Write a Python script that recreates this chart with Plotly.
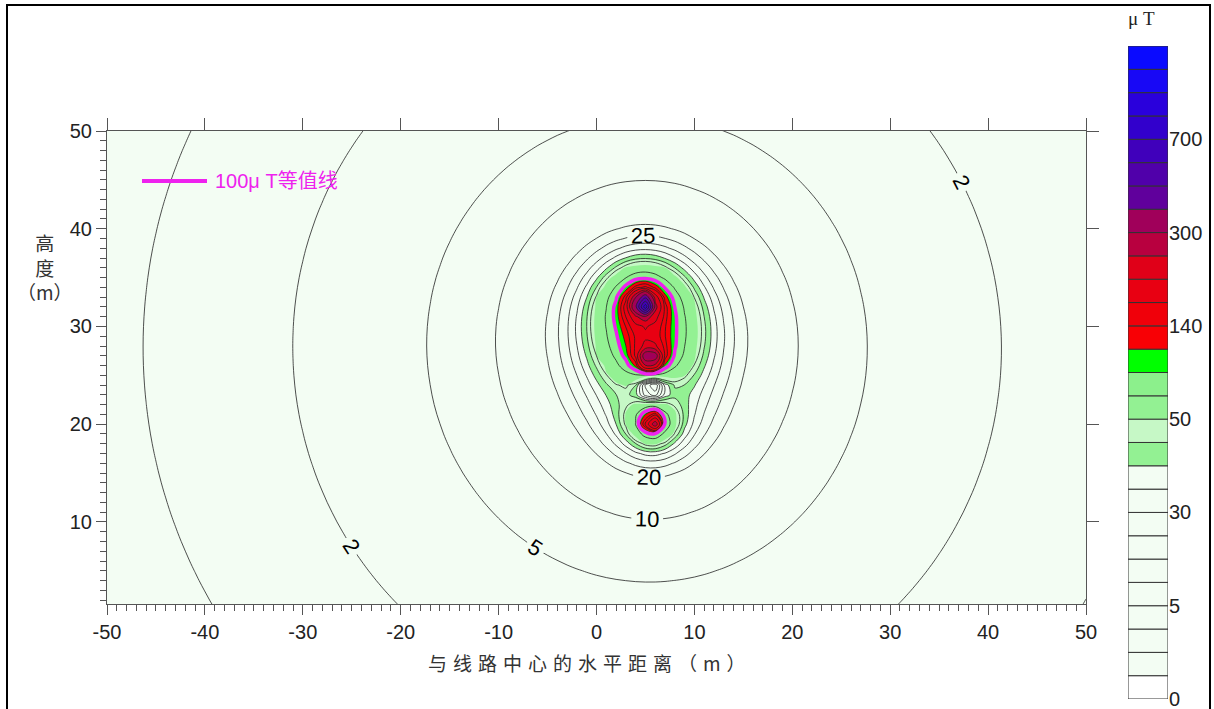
import numpy as np
import plotly.graph_objects as go

# ---------------- data ----------------
# conductor positions (m) and signed currents (A)
cond_x = [4.8, 5.5, 5.7]
cond_y = [32.4, 26.5, 20.3]
cond_current = [1626.0, -1021.0, -605.0]

# contour levels (uT) as shown on the colour bar (28 bands)
levels = [0, 0.5, 1, 2, 5, 10, 20, 25, 30, 35, 40, 45, 50, 75, 100, 120,
          140, 160, 200, 250, 300, 400, 500, 600, 700, 800, 900, 1000, 1100]
band_colors = ["#ffffff"] + ["#f3fdf3"] * 9 + [
    "#93f193", "#c6f8c6", "#93f193", "#8cf08c", "#00ff00",
    "#f80005", "#f0000a", "#e80012", "#e00018", "#b8003f", "#a0005a",
    "#60009c", "#5000aa", "#4000bb", "#3200cc", "#2a00dc", "#1808f5", "#0a0aff"]
labeled_levels = [2, 5, 10, 20, 25]
highlight_level = 100
cbar_tick_index = [0, 4, 8, 12, 16, 20, 24]
cbar_tick_text = ["0", "5", "30", "50", "140", "300", "700"]
x_ticks = [-50, -40, -30, -20, -10, 0, 10, 20, 30, 40, 50]
y_ticks = [10, 20, 30, 40, 50]
x_range = [-50, 50]
y_range = [1.6, 50]

# ---------------- field on a 1 m grid ----------------
grid_x = np.arange(-50, 50.001, 1.0)
grid_y = np.arange(1.0, 51.001, 1.0)
X, Y = np.meshgrid(grid_x, grid_y)
Bx = np.zeros_like(X)
By = np.zeros_like(X)
for cx, cy, ci in zip(cond_x, cond_y, cond_current):
    dx = X - cx
    dy = Y - cy
    r2 = dx * dx + dy * dy
    Bx += -0.2 * ci * dy / r2
    By += 0.2 * ci * dx / r2
B = np.hypot(Bx, By)
n_lev = len(levels)
Zidx = np.interp(B, levels, np.arange(n_lev))

# stepwise colourscale: band k is coloured at index k+0.5
cscale = [[0.0, band_colors[0]]]
for k, c in enumerate(band_colors):
    lo = (k + 0.5) / n_lev
    hi = (k + 1.5) / n_lev
    cscale.append([lo, c])
    cscale.append([hi, c])
cscale.append([1.0, band_colors[-1]])

# ---------------- pixel -> paper helpers ----------------
L, R, T, Bm = 107, 1200, 46, 699
def px(v):
    return (v - L) / (R - L)
def py(v):
    return (Bm - v) / (Bm - T)

fig = go.Figure()
fig.add_trace(go.Contour(
    x=grid_x, y=grid_y, z=Zidx, autocontour=False,
    contours=dict(start=0, end=n_lev - 1, size=1, coloring="fill"),
    colorscale=cscale, line=dict(width=0), showscale=False,
    hoverinfo="skip"))

for lv in levels[1:]:
    lab = lv in labeled_levels
    fig.add_trace(go.Contour(
        x=grid_x, y=grid_y, z=B, autocontour=False,
        contours=dict(start=lv, end=lv, size=1, coloring="none",
                      showlabels=lab,
                      labelfont=dict(size=22, color="black", family="Liberation Sans")),
        line=dict(color="#222222", width=0.8), showscale=False,
        hoverinfo="skip"))

fig.add_trace(go.Contour(
    x=grid_x, y=grid_y, z=B, autocontour=False, xaxis="x2", yaxis="y2",
    contours=dict(start=highlight_level, end=highlight_level, size=1, coloring="none"),
    line=dict(color="#ee22ee", width=3.5), showscale=False, hoverinfo="skip"))

# colour bar drawn as stacked boxes
fig.add_trace(go.Bar(
    x=[0] * len(band_colors), y=[1] * len(band_colors),
    base=list(range(len(band_colors))), width=1,
    marker=dict(color=band_colors, line=dict(color="#333333", width=1)),
    xaxis="x3", yaxis="y3", showlegend=False, hoverinfo="skip"))

tickfont = dict(family="Liberation Sans, Arial", size=20, color="#222222")
axcol = "#555555"
fig.update_layout(
    width=1214, height=709,
    margin=dict(l=L, r=1214 - R, t=T, b=709 - Bm, autoexpand=False),
    paper_bgcolor="white", plot_bgcolor="white", showlegend=False,
    xaxis=dict(domain=[0, px(1086)], range=x_range, anchor="y", automargin=False,
               tickvals=x_ticks, ticktext=[str(v) for v in x_ticks],
               ticks="outside", ticklen=10, tickcolor=axcol,
               showline=True, linecolor=axcol, linewidth=1,
               showgrid=False, zeroline=False, tickfont=tickfont,
               minor=dict(dtick=1, ticks="outside", ticklen=6, tickcolor=axcol)),
    yaxis=dict(domain=[py(604), py(131)], range=y_range, anchor="x", automargin=False,
               tickvals=y_ticks, ticktext=[str(v) for v in y_ticks],
               ticks="outside", ticklen=10, tickcolor=axcol,
               showline=True, linecolor=axcol, linewidth=1,
               showgrid=False, zeroline=False, tickfont=tickfont,
               minor=dict(dtick=1, ticks="outside", ticklen=6, tickcolor=axcol)),
    xaxis2=dict(overlaying="x", side="top", range=x_range, anchor="y2", automargin=False,
                tickvals=x_ticks, ticks="outside", ticklen=12, tickcolor=axcol,
                showticklabels=False, showline=True, linecolor=axcol,
                showgrid=False, zeroline=False),
    yaxis2=dict(overlaying="y", side="right", range=y_range, anchor="x2", automargin=False,
                tickvals=y_ticks, ticks="outside", ticklen=12, tickcolor=axcol,
                showticklabels=False, showline=True, linecolor=axcol,
                showgrid=False, zeroline=False),
    xaxis3=dict(domain=[px(1128), px(1168)], range=[-0.5, 0.5], anchor="y3",
                visible=False, automargin=False),
    yaxis3=dict(domain=[0, 1], range=[0, len(band_colors)], anchor="x3",
                side="right", tickvals=cbar_tick_index, ticktext=cbar_tick_text,
                ticks="", showgrid=False, zeroline=False, showline=False,
                tickfont=tickfont, automargin=False, ticklabeloverflow="allow"),
    shapes=[
        dict(type="line", xref="paper", yref="paper", x0=px(142), x1=px(207),
             y0=py(181), y1=py(181), line=dict(color="#ee22ee", width=4)),
        dict(type="rect", xref="paper", yref="paper", x0=px(7), x1=px(1210),
             y0=py(730), y1=py(5), line=dict(color="black", width=2)),
    ],
    annotations=[
        dict(text="100μ T等值线", xref="paper", yref="paper", x=px(213), y=py(181),
             xanchor="left", yanchor="middle", showarrow=False,
             font=dict(family="Liberation Sans, Noto Sans CJK SC", size=20, color="#ee22ee")),
        dict(text="高<br>度<br>（m）", xref="paper", yref="paper", x=px(45), y=py(267),
             xanchor="center", yanchor="middle", showarrow=False,
             font=dict(family="Noto Sans CJK SC", size=19, color="#333333")),
        dict(text='<span style="letter-spacing:6px">与线路中心的水平距离（m）</span>',
             xref="paper", yref="paper", x=px(590), y=py(662),
             xanchor="center", yanchor="middle", showarrow=False,
             font=dict(family="Noto Sans CJK SC", size=19, color="#333333")),
        dict(text="μ T", xref="paper", yref="paper", x=px(1141), y=py(18),
             xanchor="center", yanchor="middle", showarrow=False,
             font=dict(family="Liberation Serif", size=19, color="#222222")),
    ],
)

fig.write_html("out.html")
